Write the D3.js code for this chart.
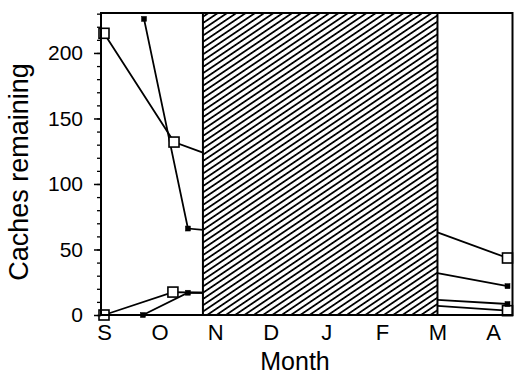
<!DOCTYPE html>
<html lang="en">
<head>
    <meta charset="UTF-8">
    <title>Caches remaining</title>
    <script src="https://cdn.jsdelivr.net/npm/d3@7"></script>
    <style>
        body { margin: 0; background: #fff; }
        text { font-family: "Liberation Sans", Arial, sans-serif; fill: #000; }
    </style>
</head>
<body>
    <script>
        //month labels, one per month starting in September
        var months = ['S', 'O', 'N', 'D', 'J', 'F', 'M', 'A'];
        var yMajor = [0, 50, 100, 150, 200];
        var yMinor = d3.range(0, 231, 10);

        //winter period covered by the hatched box (in months from 1 Sept)
        var winter = [1.78, 6.0];

        //autumn points (month, caches) and spring points, per series
        var openA_x = [0, 1.26];
        var openA_y = [215, 132];
        var openA_edge = [124, 63];
        var openA_spring_x = [7.26];
        var openA_spring_y = [43.5];

        var fillA_x = [0.72, 1.51];
        var fillA_y = [226, 66];
        var fillA_edge = [65, 32];
        var fillA_spring_x = [7.26];
        var fillA_spring_y = [22];

        var openB_x = [0, 1.24];
        var openB_y = [0, 17.5];
        var openB_edge = [17, 7];
        var openB_spring_x = [7.26];
        var openB_spring_y = [3.3];

        var fillB_x = [0.7, 1.51];
        var fillB_y = [0, 17];
        var fillB_edge = [17, 11.5];
        var fillB_spring_x = [7.26];
        var fillB_spring_y = [8.4];

        var series = [
            {open: true,  x: openA_x, y: openA_y, edge: openA_edge, sx: openA_spring_x, sy: openA_spring_y},
            {open: false, x: fillA_x, y: fillA_y, edge: fillA_edge, sx: fillA_spring_x, sy: fillA_spring_y},
            {open: true,  x: openB_x, y: openB_y, edge: openB_edge, sx: openB_spring_x, sy: openB_spring_y},
            {open: false, x: fillB_x, y: fillB_y, edge: fillB_edge, sx: fillB_spring_x, sy: fillB_spring_y}
        ];

        var w = 514;
        var h = 378;
        //plot box edges (note: "top" is reserved on window, so use pTop etc.)
        var pLeft = 101, pRight = 512.5, pTop = 13, pBottom = 315;

        var xScale = d3.scaleLinear()
                        .domain([-0.054, 7.35])
                        .range([pLeft, pRight]);

        var yScale = d3.scaleLinear()
                        .domain([0, 230.5])
                        .range([pBottom, pTop]);

        var svg = d3.select('body')
                    .append('svg')
                    .attr('width', w)
                    .attr('height', h);

        //hatch pattern for winter
        svg.append('defs')
            .append('pattern')
            .attr('id', 'hatch')
            .attr('patternUnits', 'userSpaceOnUse')
            .attr('width', 5.2)
            .attr('height', 5.2)
            .attr('patternTransform', 'rotate(-34)')
            .append('line')
            .attr('x1', 0).attr('y1', 2.6)
            .attr('x2', 5.2).attr('y2', 2.6)
            .attr('stroke', '#000')
            .attr('stroke-width', 1.8);

        var line = d3.line()
                    .x(function(d) { return xScale(d[0]); })
                    .y(function(d) { return yScale(d[1]); });

        //lines, autumn part and spring part
        series.forEach(function(s) {
            var autumn = s.x.map(function(v, i) { return [v, s.y[i]]; });
            autumn.push([winter[0], s.edge[0]]);
            var spring = [[winter[1], s.edge[1]]].concat(s.sx.map(function(v, i) { return [v, s.sy[i]]; }));
            [autumn, spring].forEach(function(pts) {
                svg.append('path')
                    .attr('d', line(pts))
                    .attr('fill', 'none')
                    .attr('stroke', '#000')
                    .attr('stroke-width', 1.8);
            });
        });

        //hatched winter box
        svg.append('rect')
            .attr('x', xScale(winter[0]))
            .attr('y', pTop)
            .attr('width', xScale(winter[1]) - xScale(winter[0]))
            .attr('height', pBottom - pTop)
            .attr('fill', 'url(#hatch)')
            .attr('stroke', '#000')
            .attr('stroke-width', 2);

        //markers
        series.forEach(function(s) {
            var pts = s.x.map(function(v, i) { return [v, s.y[i]]; })
                        .concat(s.sx.map(function(v, i) { return [v, s.sy[i]]; }));
            var size = s.open ? 10 : 5;
            svg.append('g')
                .selectAll('rect')
                .data(pts)
                .enter()
                .append('rect')
                .attr('x', function(d) { return xScale(d[0]) - size / 2; })
                .attr('y', function(d) { return yScale(d[1]) - size / 2; })
                .attr('width', size)
                .attr('height', size)
                .attr('fill', s.open ? '#fff' : '#000')
                .attr('stroke', '#000')
                .attr('stroke-width', s.open ? 1.6 : 0.5);
        });

        //frame
        svg.append('rect')
            .attr('x', pLeft)
            .attr('y', pTop)
            .attr('width', pRight - pLeft)
            .attr('height', pBottom - pTop)
            .attr('fill', 'none')
            .attr('stroke', '#000')
            .attr('stroke-width', 2);

        //y axis, minor ticks then labelled major ticks
        svg.append('g')
            .attr('transform', 'translate(' + pLeft + ',0)')
            .call(d3.axisLeft(yScale).tickValues(yMinor).tickSize(4).tickFormat(''))
            .call(function(g) { g.select('.domain').remove(); })
            .selectAll('line').attr('stroke-width', 1.3);

        svg.append('g')
            .attr('transform', 'translate(' + pLeft + ',0)')
            .call(d3.axisLeft(yScale).tickValues(yMajor).tickSize(7).tickPadding(11))
            .call(function(g) {
                g.select('.domain').remove();
                g.selectAll('line').attr('stroke-width', 1.5);
                g.selectAll('text').style('font-size', '21px')
                    .style('font-family', '"Liberation Sans", Arial, sans-serif');
            });

        //x axis, labels only
        svg.append('g')
            .attr('transform', 'translate(0,' + pBottom + ')')
            .call(d3.axisBottom(xScale).tickValues(d3.range(months.length))
                    .tickSize(0).tickPadding(9)
                    .tickFormat(function(d) { return months[d]; }))
            .call(function(g) {
                g.select('.domain').remove();
                g.selectAll('text').style('font-size', '22px')
                    .style('font-family', '"Liberation Sans", Arial, sans-serif');
            });

        //axis titles
        svg.append('text')
            .attr('x', 295)
            .attr('y', 370)
            .attr('text-anchor', 'middle')
            .style('font-size', '25px')
            .text('Month');

        svg.append('text')
            .attr('transform', 'translate(28,172) rotate(-90)')
            .attr('text-anchor', 'middle')
            .style('font-size', '27px')
            .text('Caches remaining');
    </script>
</body>
</html>
